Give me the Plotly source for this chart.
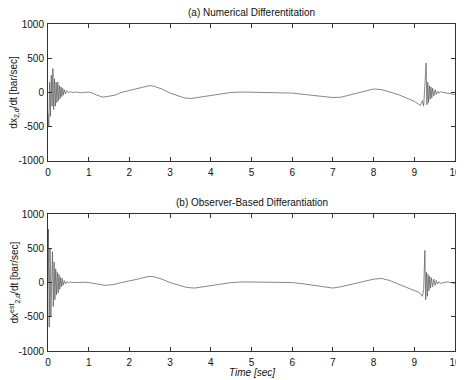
import plotly.graph_objects as go
from plotly.subplots import make_subplots

# Panel (a): numerical differentiation
t_a = [0.00, 0.02, 0.04, 0.06, 0.08, 0.10, 0.12, 0.14, 0.16, 0.18, 0.20, 0.22, 0.24,
       0.26, 0.28, 0.30, 0.32, 0.34, 0.36, 0.38, 0.40, 0.43, 0.46, 0.50, 0.55, 0.60,
       0.7, 0.8, 0.9, 1.0, 1.1, 1.2, 1.35, 1.5, 1.65, 1.8, 2.0, 2.2, 2.4, 2.5, 2.6,
       2.8, 3.0, 3.2, 3.35, 3.5, 3.7, 3.9, 4.1, 4.3, 4.5, 4.8, 5.1, 5.4, 5.7, 6.0,
       6.3, 6.6, 6.8, 7.0, 7.2, 7.4, 7.6, 7.8, 8.0, 8.2, 8.4, 8.6, 8.8, 9.0, 9.1, 9.15,
       9.2, 9.23, 9.26, 9.29, 9.31, 9.33, 9.35, 9.37, 9.39, 9.41, 9.43, 9.45, 9.48,
       9.51, 9.54, 9.57, 9.6, 9.65, 9.7, 9.8, 9.9, 10.0]
v_a = [-300, -500, 150, -350, 250, -200, 350, -250, 200, -200, 150, -150, 150,
       -120, 100, -90, 80, -60, 60, -40, 40, -20, 25, -5, 10, 0,
       5, -5, 0, 5, -10, -40, -70, -50, -40, 0, 30, 60, 90, 100, 90,
       50, -10, -50, -80, -90, -70, -50, -30, -10, 0, 5, 0, 5, 0, -10,
       -30, -50, -70, -75, -70, -40, -10, 20, 50, 40, 10, -30, -80, -130, -170, -190,
       -120, -200, 100, 430, -180, 150, -150, 100, -100, 80, -80, 60, -50,
       40, -30, 20, -10, 10, 0, -10, -20, -30]

# Panel (b): observer-based differentiation
t_b = [0.00, 0.01, 0.03, 0.05, 0.07, 0.09, 0.11, 0.13, 0.15, 0.17, 0.19, 0.21, 0.23,
       0.25, 0.27, 0.29, 0.31, 0.33, 0.35, 0.37, 0.40, 0.43, 0.46, 0.50, 0.55, 0.60,
       0.7, 0.8, 0.9, 1.0, 1.1, 1.2, 1.4, 1.6, 1.8, 2.0, 2.2, 2.4, 2.5, 2.6, 2.8,
       3.0, 3.2, 3.4, 3.6, 3.8, 4.0, 4.2, 4.5, 4.8, 5.1, 5.4, 5.7, 6.0, 6.3, 6.6,
       6.8, 7.0, 7.2, 7.4, 7.6, 7.8, 8.0, 8.2, 8.4, 8.6, 8.8, 9.0, 9.1, 9.15,
       9.2, 9.23, 9.26, 9.28, 9.30, 9.32, 9.34, 9.36, 9.38, 9.40, 9.42, 9.45, 9.48,
       9.51, 9.54, 9.57, 9.6, 9.65, 9.7, 9.8, 9.9, 10.0]
v_b = [0, 780, -650, 500, -500, 300, 450, -350, 300, -250, 200, -180, 150,
       -150, 120, -100, 80, -60, 60, -40, 30, -20, 15, -5, 10, 0,
       5, 0, 5, 0, -5, -20, -40, -30, 0, 20, 50, 80, 90, 85, 50,
       0, -40, -70, -80, -60, -40, -20, 0, 10, 5, 10, 5, 0, -20, -50,
       -70, -80, -60, -30, 0, 30, 50, 60, 30, -20, -70, -110, -140, -160,
       -200, -100, 470, -250, 150, -200, 120, -120, 90, -80, 70, -60, 50,
       -40, 30, -20, 10, -10, 0, 10, 0, -10]

x_ticks = [0, 1, 2, 3, 4, 5, 6, 7, 8, 9, 10]
y_ticks = [-1000, -500, 0, 500, 1000]
y_tick_text = ["-1000", "-500", "0", "500", "1000"]

FONT = "Liberation Sans"
fig = make_subplots(rows=2, cols=1, vertical_spacing=0.1632)
fig.add_trace(go.Scatter(x=t_a, y=v_a, mode="lines",
                         line=dict(color="#555555", width=0.7)), row=1, col=1)
fig.add_trace(go.Scatter(x=t_b, y=v_b, mode="lines",
                         line=dict(color="#555555", width=0.7)), row=2, col=1)

axis_common = dict(showgrid=False, zeroline=False, showline=True, mirror="ticks",
                   linecolor="#333333", linewidth=1, ticks="inside", ticklen=4,
                   tickcolor="#333333", automargin=False,
                   tickfont=dict(family=FONT, size=10, color="#111111"))
for r in (1, 2):
    fig.update_xaxes(range=[0, 10], tickvals=x_ticks, ticklabelstandoff=2, **axis_common, row=r, col=1)
    fig.update_yaxes(range=[-1000, 1000], tickvals=y_ticks, ticktext=y_tick_text,
                     ticklabelstandoff=1, **axis_common, row=r, col=1)

fig.update_yaxes(title=dict(text="dx<sub>2,d</sub>/dt [bar/sec]", standoff=4,
                            font=dict(family=FONT, size=10, color="#111111")), row=1, col=1)
fig.update_yaxes(title=dict(text="dx<sup>est</sup><sub>2,d</sub>/dt [bar/sec]", standoff=4,
                            font=dict(family=FONT, size=10, color="#111111")), row=2, col=1)

# The page adds an 8px body margin, so the figure is sized/offset to compensate.
fig.update_layout(
    width=456, height=372,
    margin=dict(l=40, r=9, t=16, b=29),
    paper_bgcolor="white", plot_bgcolor="white",
    showlegend=False,
    annotations=[
        dict(text="(a) Numerical Differentitation", x=0.5, y=1.0, xref="paper", yref="paper",
             yshift=12, showarrow=False, xanchor="center", yanchor="middle",
             font=dict(family=FONT, size=10, color="#111111")),
        dict(text="(b) Observer-Based Differantiation", x=0.5, y=0.4184, xref="paper", yref="paper",
             yshift=12, showarrow=False, xanchor="center", yanchor="middle",
             font=dict(family=FONT, size=10, color="#111111")),
        dict(text="<i>Time [sec]</i>", x=0.5, y=0, xref="paper", yref="paper",
             yshift=-21, showarrow=False, xanchor="center", yanchor="middle",
             font=dict(family=FONT, size=10, color="#111111")),
    ],
)

fig.write_html("out.html")
